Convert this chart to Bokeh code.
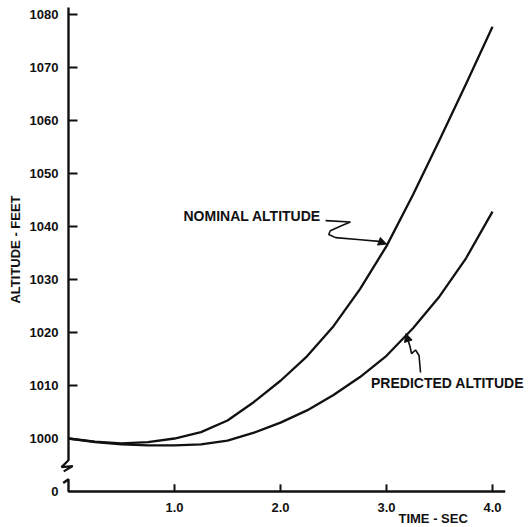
from bokeh.plotting import figure
from bokeh.models import Range1d, FixedTicker, Label, Arrow, NormalHead
from bokeh.embed import file_html
from bokeh.resources import INLINE

# ---- data ----
time_sec = [0.0, 0.25, 0.5, 0.75, 1.0, 1.25, 1.5, 1.75, 2.0, 2.25, 2.5, 2.75,
            3.0, 3.25, 3.5, 3.75, 4.0]
nominal_alt = [1000.0, 999.4, 999.1, 999.3, 1000.0, 1001.2, 1003.4, 1006.9,
               1010.9, 1015.5, 1021.2, 1028.2, 1036.3, 1046.0, 1056.3, 1066.9, 1077.7]
predicted_alt = [1000.0, 999.3, 998.9, 998.7, 998.7, 998.9, 999.6, 1001.1,
                 1003.0, 1005.3, 1008.2, 1011.6, 1015.6, 1020.8, 1026.8, 1034.0, 1042.8]

x_ticks = [1.0, 2.0, 3.0, 4.0]
x_tick_labels = ["1.0", "2.0", "3.0", "4.0"]
# 990 stands for the broken-axis "0"
y_ticks = [990, 1000, 1010, 1020, 1030, 1040, 1050, 1060, 1070, 1080]
y_tick_labels = ["0", "1000", "1010", "1020", "1030", "1040", "1050", "1060", "1070", "1080"]

FONT = "Liberation Sans"
INK = "#111111"

p = figure(width=530, height=527,
           x_range=Range1d(-0.6415, 4.3585), y_range=Range1d(983.21, 1082.64),
           min_border_left=0, min_border_right=0, min_border_top=0, min_border_bottom=0,
           output_backend="svg", toolbar_location=None)
p.outline_line_color = None
p.grid.visible = False
p.background_fill_color = "white"
p.border_fill_color = "white"

# axes drawn at fixed data locations (broken axis), labels are real axis labels
p.xaxis.fixed_location = 990
p.yaxis.fixed_location = 0
p.xaxis.ticker = FixedTicker(ticks=x_ticks)
p.xaxis.major_label_overrides = {t: s for t, s in zip(x_ticks, x_tick_labels)}
p.yaxis.ticker = FixedTicker(ticks=y_ticks)
p.yaxis.major_label_overrides = {t: s for t, s in zip(y_ticks, y_tick_labels)}
for ax in (p.xaxis, p.yaxis):
    ax.axis_line_color = None
    ax.major_tick_line_color = None
    ax.minor_tick_line_color = None
    ax.major_tick_in = 0
    ax.major_tick_out = 0
    ax.major_label_text_font = FONT
    ax.major_label_text_font_style = "bold"
    ax.major_label_text_font_size = "13px"
    ax.major_label_text_color = INK
p.xaxis.major_label_standoff = 11
p.yaxis.major_label_standoff = 10
p.yaxis.bounds = (990, 1081.3)
p.yaxis.axis_label = "ALTITUDE - FEET"
p.yaxis.axis_label_text_font = FONT
p.yaxis.axis_label_text_font_style = "bold"
p.yaxis.axis_label_text_font_size = "13px"
p.yaxis.axis_label_text_color = INK
p.yaxis.axis_label_standoff = 4

x_hi = 4.12
y_top = 1081.3

# y axis line (upper part above break)
p.segment(x0=[0], y0=[995.8], x1=[0], y1=[y_top], line_color=INK, line_width=2.4)
# break zig-zag
p.line(x=[0.0, -0.066, 0.04, -0.045], y=[995.9, 994.6, 994.8, 993.8],
       line_color=INK, line_width=2.2)
# lower hook + x axis line
p.line(x=[-0.05, 0.0, 0.0, x_hi], y=[991.6, 992.3, 990.0, 990.0],
       line_color=INK, line_width=2.4)

# ticks
y_tick_marks = y_ticks[2:]
p.segment(x0=[0] * len(y_tick_marks), y0=y_tick_marks,
          x1=[0.085] * len(y_tick_marks), y1=y_tick_marks, line_color=INK, line_width=2)
p.segment(x0=x_ticks, y0=[990] * len(x_ticks), x1=x_ticks, y1=[991.35] * len(x_ticks),
          line_color=INK, line_width=2)

# curves
p.line(time_sec, nominal_alt, line_color=INK, line_width=2.3)
p.line(time_sec, predicted_alt, line_color=INK, line_width=2.3)

# annotations
p.add_layout(Label(x=1.085, y=1041.9, text="NOMINAL ALTITUDE", text_font=FONT,
                   text_font_style="bold", text_font_size="14px", text_color=INK,
                   text_baseline="middle", text_align="left"))
p.add_layout(Label(x=2.854, y=1010.4, text="PREDICTED ALTITUDE", text_font=FONT,
                   text_font_style="bold", text_font_size="14px", text_color=INK,
                   text_baseline="middle", text_align="left"))
p.add_layout(Label(x=3.113, y=984.9, text="TIME - SEC", text_font=FONT,
                   text_font_style="bold", text_font_size="13px", text_color=INK,
                   text_baseline="middle", text_align="left"))

# squiggly leader to nominal curve
nom_sq_x = [2.425, 2.66, 2.58, 2.47, 2.455, 2.52, 2.755, 2.93]
nom_sq_y = [1041.1, 1040.85, 1040.2, 1039.2, 1038.5, 1037.9, 1037.5, 1037.2]
p.line(nom_sq_x, nom_sq_y, line_color=INK, line_width=1.6)
p.add_layout(Arrow(end=NormalHead(size=8, fill_color=INK, line_color=INK),
                   x_start=2.93, y_start=1037.2, x_end=3.0, y_end=1036.7,
                   line_color=INK, line_width=1.6))

# squiggly leader to predicted curve
pre_sq_x = [3.321, 3.307, 3.274, 3.236, 3.222, 3.198]
pre_sq_y = [1012.45, 1015.66, 1016.7, 1016.0, 1017.36, 1018.87]
p.line(pre_sq_x, pre_sq_y, line_color=INK, line_width=1.6)
p.add_layout(Arrow(end=NormalHead(size=8, fill_color=INK, line_color=INK),
                   x_start=3.198, y_start=1018.87, x_end=3.184, y_end=1019.8,
                   line_color=INK, line_width=1.6))

open("out.html", "w").write(file_html(p, INLINE))
